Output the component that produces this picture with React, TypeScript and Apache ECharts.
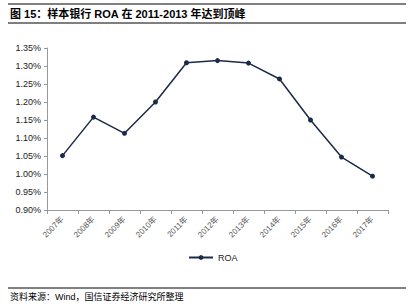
import React, { useEffect, useRef } from "react";
import * as echarts from "echarts";

const categories = ["2007年", "2008年", "2009年", "2010年", "2011年", "2012年", "2013年", "2014年", "2015年", "2016年", "2017年"];
const roa = [1.051, 1.158, 1.113, 1.2, 1.309, 1.315, 1.308, 1.264, 1.15, 1.047, 0.994];
const titleText = "图 15：样本银行 ROA 在 2011-2013 年达到顶峰";
const sourceText = "资料来源：Wind，国信证券经济研究所整理";
const seriesName = "ROA";

export default function App() {
  const ref = useRef<HTMLDivElement>(null);
  useEffect(() => {
    if (!ref.current) return;
    const chart = echarts.init(ref.current, undefined, { renderer: "svg" });
    const font = "Arial, 'Liberation Sans', 'Noto Sans CJK SC', sans-serif";
    chart.setOption({
      animation: false,
      backgroundColor: "#ffffff",
      textStyle: { fontFamily: font },
      grid: { left: 47, right: 22, top: 48, bottom: 94 },
      legend: {
        data: [seriesName],
        left: 183,
        top: 248,
        itemWidth: 24,
        itemHeight: 6,
        itemGap: 4,
        textStyle: { fontSize: 9, color: "#222", fontFamily: font },
      },
      xAxis: {
        type: "category",
        data: categories,
        boundaryGap: true,
        axisLine: { lineStyle: { color: "#999", width: 1 } },
        axisTick: { show: true, alignWithLabel: false, length: 4, lineStyle: { color: "#999" } },
        axisLabel: { rotate: 45, fontSize: 8, color: "#555", margin: 8, fontFamily: font },
      },
      yAxis: {
        type: "value",
        min: 0.9,
        max: 1.35,
        interval: 0.05,
        axisLine: { show: true, lineStyle: { color: "#999", width: 1 } },
        axisTick: { show: true, length: 3, lineStyle: { color: "#999" } },
        splitLine: { show: false },
        axisLabel: {
          fontSize: 9,
          color: "#222",
          margin: 6,
          fontFamily: font,
          formatter: (v: number) => v.toFixed(2) + "%",
        },
      },
      series: [
        {
          name: seriesName,
          type: "line",
          data: roa,
          symbol: "circle",
          symbolSize: 5,
          lineStyle: { color: "#1c2a48", width: 1.5 },
          itemStyle: { color: "#1c2a48" },
        },
      ],
      graphic: [
        { type: "line", shape: { x1: 8, y1: 4, x2: 406, y2: 4 }, style: { stroke: "#000", lineWidth: 1 } },
        { type: "line", shape: { x1: 8, y1: 23, x2: 406, y2: 23 }, style: { stroke: "#000", lineWidth: 1.2 } },
        {
          type: "text",
          left: 10,
          top: 8,
          style: { text: titleText, fontSize: 11, fontWeight: "bold", fill: "#000", fontFamily: font },
        },
        { type: "line", shape: { x1: 8, y1: 288, x2: 406, y2: 288 }, style: { stroke: "#000", lineWidth: 1 } },
        {
          type: "text",
          left: 10,
          top: 292,
          style: { text: sourceText, fontSize: 9, fill: "#000", fontFamily: font },
        },
      ],
    });
    return () => chart.dispose();
  }, []);
  return <div ref={ref} style={{ position: "fixed", left: 0, top: 0, width: 410, height: 304 }} />;
}
